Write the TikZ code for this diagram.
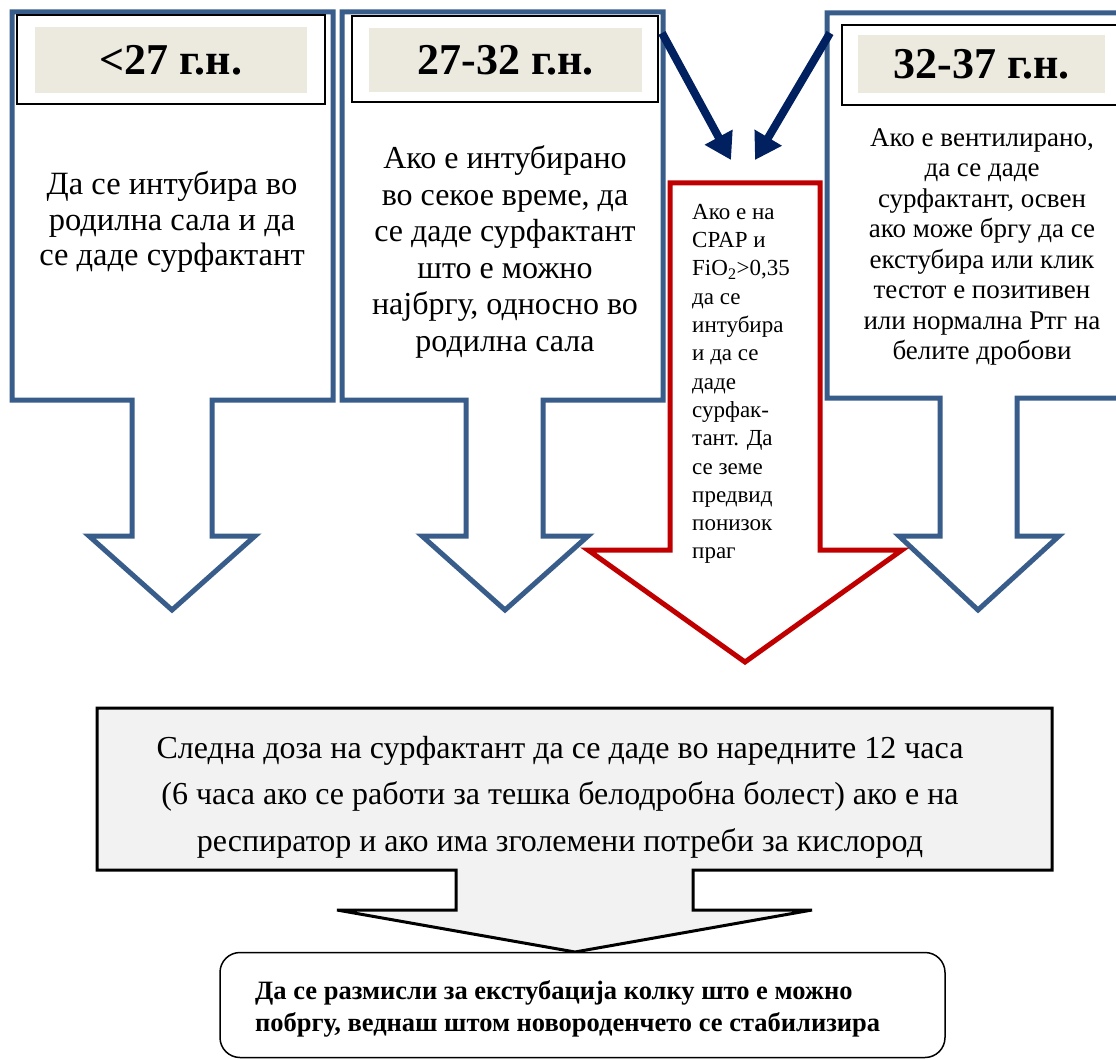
\documentclass[tikz,border=0pt]{standalone}
\usepackage{fontspec}
\setmainfont{Liberation Serif}
\usetikzlibrary{arrows.meta,positioning}
\definecolor{callblue}{RGB}{56,93,138}
\definecolor{callred}{RGB}{192,0,0}
\definecolor{navyarrow}{RGB}{0,32,96}
\definecolor{headfill}{RGB}{236,233,223}
\definecolor{dosefill}{RGB}{242,242,242}

\begin{document}
\begin{tikzpicture}[x=1pt, y=-1pt,
    bluecall/.style={draw=callblue, line width=5pt, fill=white},
    redcall/.style={draw=callred, line width=5pt, fill=white},
    graycall/.style={draw=black, line width=3pt, fill=dosefill},
    frame/.style={rectangle, draw=black, line width=2pt, fill=white, inner sep=0pt},
    agebox/.style={rectangle, fill=headfill, inner sep=0pt, font=\fontsize{44}{48}\selectfont\bfseries},
    coltext/.style={align=center, inner sep=0pt, font=\fontsize{32.5}{35.5}\selectfont},
    arrow/.style={-{Triangle[width=30pt,length=26pt]}, line width=8pt, draw=navyarrow}
]
\useasboundingbox (0,0) rectangle (1116,1059);
\fill[white] (0,0) rectangle (1116,1059);
\clip (0,0) rectangle (1116,1059);

% callout shapes
\draw[bluecall] (12,12) -- (333,12) -- (333,400) -- (212,400) -- (212,536) -- (255,536)
    -- (172,610) -- (89,536) -- (132,536) -- (132,400) -- (12,400) -- cycle;
\draw[bluecall] (342,12) -- (663,12) -- (663,400) -- (543,400) -- (543,536) -- (588,536)
    -- (505,610) -- (422,536) -- (466,536) -- (466,400) -- (342,400) -- cycle;
\draw[bluecall] (827,13) -- (1129,13) -- (1129,398) -- (1017,398) -- (1017,536) -- (1059,536)
    -- (978,610) -- (899,536) -- (940,536) -- (940,398) -- (827,398) -- cycle;
\draw[redcall] (670,183) -- (820,183) -- (820,550) -- (902,550) -- (745,662)
    -- (588,550) -- (670,550) -- cycle;
\draw[graycall] (97,708) -- (1052,708) -- (1052,870) -- (693,870) -- (693,910) -- (812,910)
    -- (575,952) -- (337,910) -- (456,910) -- (456,870) -- (97,870) -- cycle;

% headers
\node[frame, minimum width=308pt, minimum height=89pt] (frame1) at (171,59.5) {};
\node[agebox, minimum width=272pt, minimum height=66pt] (age1) at (171,60) {<27 г.н.};
\node[frame, minimum width=306pt, minimum height=86pt] (frame2) at (505,59) {};
\node[agebox, minimum width=273pt, minimum height=64pt] (age2) at (505.5,60) {27-32 г.н.};
\node[frame, minimum width=278pt, minimum height=80pt] (frame3) at (981,65) {};
\node[agebox, minimum width=247pt, minimum height=58pt] (age3) at (981.5,64) {32-37 г.н.};

% texts
\node[coltext] (txt1) at (172,222) {Да се интубира во\\родилна сала и да\\се даде сурфактант};
\node[coltext, font=\fontsize{32}{36.5}\selectfont] (txt2) at (505,252) {Ако е интубирано\\во секое време, да\\се даде сурфактант\\што е можно\\најбргу, односно во\\родилна сала};
\node[coltext, font=\fontsize{27}{30.5}\selectfont] (txt3) at (982,247) {Ако е вентилирано,\\да се даде\\сурфактант, освен\\ако може бргу да се\\екстубира или клик\\тестот е позитивен\\или нормална Ртг на\\белите дробови};
\node[anchor=north west, align=left, inner sep=0pt, font=\fontsize{23}{28.3}\selectfont] (txt4) at (692,204)
    {Ако е на\\CPAP и\\FiO\textsubscript{2}>0,35\\да се\\интубира\\и да се\\даде\\сурфак-\\тант. Да\\се земе\\предвид\\понизок\\праг};
\node[coltext, font=\fontsize{32}{46.5}\selectfont] (dose) at (560,797) {Следна доза на сурфактант да се даде во наредните 12 часа\\(6 часа ако се работи за тешка белодробна болест) ако е на\\респиратор и ако има зголемени потреби за кислород};

\node[rectangle, draw=black, line width=1.5pt, rounded corners=20pt, fill=white,
    minimum width=725pt, minimum height=105pt] (extub) at (582.5,1005) {};
\node[anchor=west, align=left, inner sep=0pt, font=\fontsize{26.5}{32}\selectfont\bfseries] (extubtxt) at (255,1009)
    {Да се размисли за екстубација колку што е можно\\побргу, веднаш штом новороденчето се стабилизира};

% arrows into the red callout
\coordinate (srcL) at (662,33);
\coordinate (srcR) at (830,33);
\coordinate (tipL) at (731,160);
\coordinate (tipR) at (755,160);
\draw[arrow] (srcL) -- (tipL);
\draw[arrow] (srcR) -- (tipR);
\end{tikzpicture}
\end{document}
